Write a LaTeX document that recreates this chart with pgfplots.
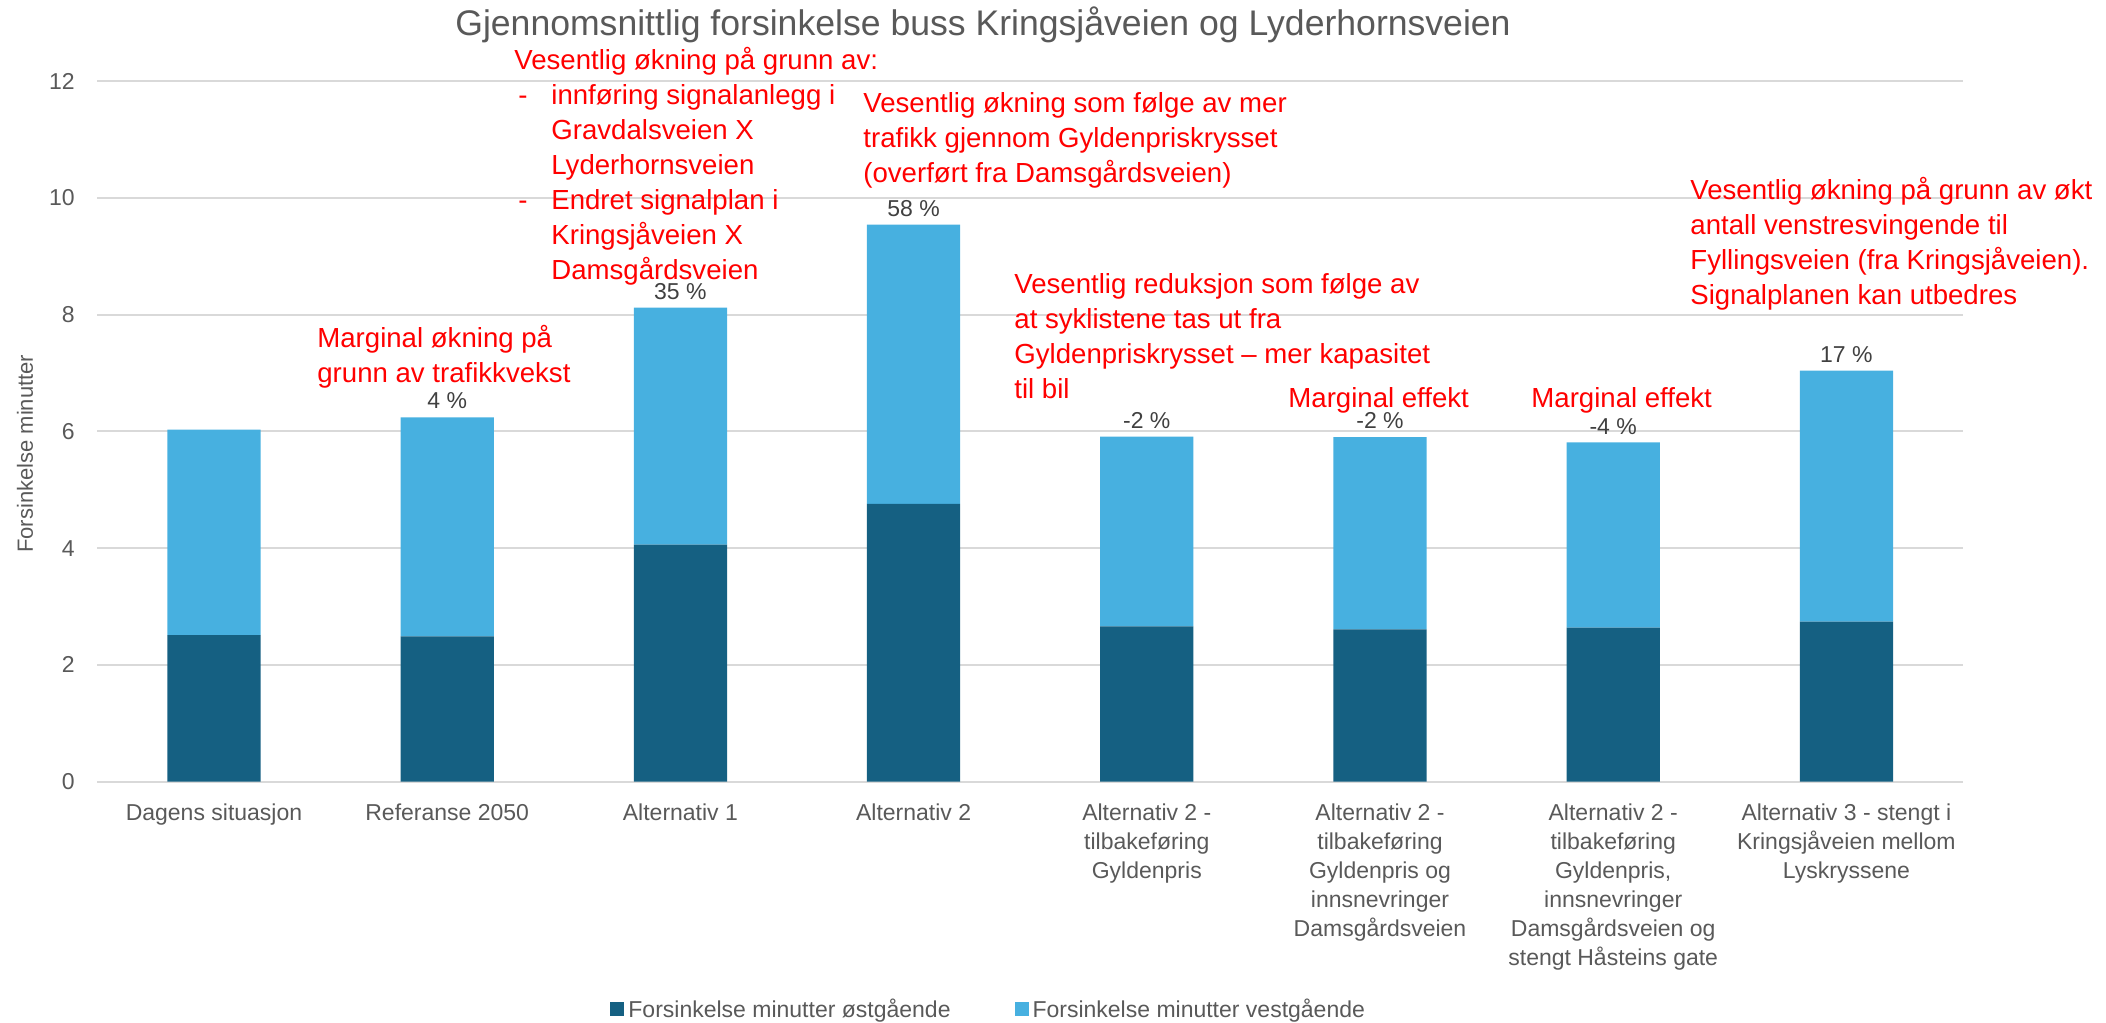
\documentclass[border=0pt]{standalone}
\usepackage{pgfplots}
\pgfplotsset{compat=1.18}
\usepackage{pgfplotstable}
\usepackage{fontspec}
\setmainfont{Liberation Sans}
\definecolor{ost}{HTML}{156082}
\definecolor{vest}{HTML}{47B0E0}
\definecolor{gridc}{HTML}{D9D9D9}
\definecolor{txt}{HTML}{595959}
\definecolor{pctc}{HTML}{404040}
\definecolor{annot}{HTML}{FF0000}

\pgfplotstableread[col sep=comma]{
x,ost,vest,lab
0,2.51,3.52,n
1,2.49,3.75,4
2,4.06,4.06,35
3,4.76,4.78,58
4,2.66,3.25,-2
5,2.61,3.29,-2
6,2.64,3.17,-4
7,2.74,4.30,17
}\data

\def\nolab{n}
\newcommand\annfont{\fontsize{13.8bp}{17.5bp}\selectfont}

\begin{document}
\begin{tikzpicture}
\path[use as bounding box] (-48.7bp,-120.65bp) rectangle (1004.3bp,390.85bp);
\begin{axis}[
  at={(0,0)}, anchor=south west, scale only axis,
  width=932.8bp, height=350.35bp,
  xmin=-0.5, xmax=7.5, ymin=0, ymax=12,
  enlargelimits=false,
  ybar stacked, bar width=0.4,
  axis line style={draw=none},
  tick style={draw=none},
  ytick={0,2,4,6,8,10,12},
  ymajorgrids, grid style={gridc, line width=1bp},
  xtick={0,1,2,3,4,5,6,7},
  xticklabels={
    {Dagens situasjon},
    {Referanse 2050},
    {Alternativ 1},
    {Alternativ 2},
    {Alternativ 2 -\\tilbakeføring\\Gyldenpris},
    {Alternativ 2 -\\tilbakeføring\\Gyldenpris og\\innsnevringer\\Damsgårdsveien},
    {Alternativ 2 -\\tilbakeføring\\Gyldenpris,\\innsnevringer\\Damsgårdsveien og\\stengt Håsteins gate},
    {Alternativ 3 - stengt i\\Kringsjåveien mellom\\Lyskryssene}},
  xticklabel style={align=center, anchor=north, inner sep=0pt, yshift=-10.65bp,
    font=\fontsize{11.5bp}{14.5bp}\selectfont, text=txt},
  yticklabel style={anchor=east, inner sep=0pt, xshift=-11.2bp,
    font=\fontsize{11.5bp}{14bp}\selectfont, text=txt},
  /pgf/number format/assume math mode=true,
  ylabel={Forsinkelse minutter},
  every axis y label/.style={at={(-0.0388,0.468)}, rotate=90, anchor=center,
    font=\fontsize{11bp}{13bp}\selectfont, text=txt},
  legend columns=2,
  legend cell align=left,
  legend style={at={(0.2748,-0.325)}, anchor=west, draw=none, fill=none,
    inner sep=0pt, font=\fontsize{11.5bp}{14bp}\selectfont, text=txt,
    /tikz/every even column/.append style={column sep=30bp}},
]
\addplot+[draw=none, fill=ost,
  legend image code/.code={\fill[ost] (0bp,-3.5bp) rectangle (7bp,3.5bp);}]
  table[x=x, y=ost] {\data};
\addlegendentry{Forsinkelse minutter østgående}
\addplot+[draw=none, fill=vest,
  legend image code/.code={\fill[vest] (0bp,-3.5bp) rectangle (7bp,3.5bp);},
  point meta=explicit symbolic,
  visualization depends on=rawy \as \ry,
  nodes near coords={\edef\tmp{\pgfplotspointmeta}\ifx\tmp\nolab\else\pgfplotspointmeta\ \%\fi},
  every node near coord/.append style={anchor=south, inner sep=0pt,
    yshift=\ry*14.598bp+3.9bp,
    font=\fontsize{11.5bp}{14bp}\selectfont, text=pctc}]
  table[x=x, y=vest, meta=lab] {\data};
\addlegendentry{Forsinkelse minutter vestgående}
\end{axis}

\node[anchor=base, inner sep=0pt, text=txt, font=\fontsize{17.8bp}{20bp}\selectfont]
  at (442.8bp,373bp) {Gjennomsnittlig forsinkelse buss Kringsjåveien og Lyderhornsveien};

\node[anchor=north west, inner sep=0pt, align=left, text=annot, font=\annfont]
  at (208.3bp,367.5bp) {Vesentlig økning på grunn av:\\
  \makebox[18.5bp][l]{\hspace{2bp}-}innføring signalanlegg i\\
  \hspace*{18.5bp}Gravdalsveien X\\
  \hspace*{18.5bp}Lyderhornsveien\\
  \makebox[18.5bp][l]{\hspace{2bp}-}Endret signalplan i\\
  \hspace*{18.5bp}Kringsjåveien X\\
  \hspace*{18.5bp}Damsgårdsveien};

\node[anchor=north west, inner sep=0pt, align=left, text=annot, font=\annfont]
  at (382.8bp,345bp) {Vesentlig økning som følge av mer\\
  trafikk gjennom Gyldenpriskrysset\\
  (overført fra Damsgårdsveien)};

\node[anchor=north west, inner sep=0pt, align=left, text=annot, font=\annfont]
  at (109.8bp,228.35bp) {Marginal økning på\\grunn av trafikkvekst};

\node[anchor=north west, inner sep=0pt, align=left, text=annot, font=\annfont]
  at (458.3bp,254.35bp) {Vesentlig reduksjon som følge av\\
  at syklistene tas ut fra\\
  Gyldenpriskrysset – mer kapasitet\\
  til bil};

\node[anchor=north west, inner sep=0pt, align=left, text=annot, font=\annfont]
  at (595.3bp,197.5bp) {Marginal effekt};

\node[anchor=north west, inner sep=0pt, align=left, text=annot, font=\annfont]
  at (716.8bp,197.5bp) {Marginal effekt};

\node[anchor=north west, inner sep=0pt, align=left, text=annot, font=\annfont]
  at (796.3bp,302.2bp) {Vesentlig økning på grunn av økt\\
  antall venstresvingende til\\
  Fyllingsveien (fra Kringsjåveien).\\
  Signalplanen kan utbedres};
\end{tikzpicture}
\end{document}
